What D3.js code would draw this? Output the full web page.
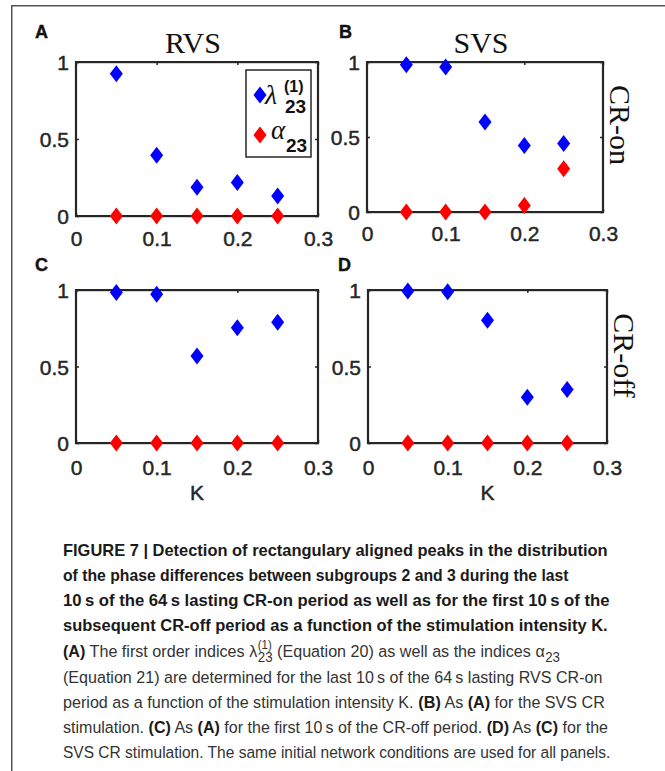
<!DOCTYPE html>
<html><head><meta charset="utf-8">
<script src="https://cdn.jsdelivr.net/npm/d3@7"></script>
<style>body{margin:0;background:#fff}svg{display:block}</style>
</head><body>
<svg id="fig" width="665" height="771"></svg>
<script>
// ---- data ----
const K = [0.05, 0.10, 0.15, 0.20, 0.25];
const lambdaRVSon  = [0.924, 0.395, 0.186, 0.218, 0.130];
const alphaRVSon   = [0, 0, 0, 0, 0];
const lambdaSVSon  = [0.982, 0.967, 0.600, 0.444, 0.456];
const alphaSVSon   = [0, 0, 0, 0.044, 0.289];
const lambdaRVSoff = [0.983, 0.972, 0.568, 0.753, 0.790];
const alphaRVSoff  = [0, 0, 0, 0, 0];
const lambdaSVSoff = [0.993, 0.989, 0.803, 0.299, 0.349];
const alphaSVSoff  = [0, 0, 0, 0, 0];
const xTicks = [0, 0.1, 0.2, 0.3];
const yTicks = [0, 0.5, 1];
const xTickLabels = ["0", "0.1", "0.2", "0.3"];
const yTickLabels = ["0", "0.5", "1"];
const panelLetters = ["A", "B", "C", "D"];
const columnTitles = ["RVS", "SVS"];
const rowTitles = ["CR-on", "CR-off"];

const svg = d3.select('#fig');
const AX = '#262626';
const tickFont = "'Liberation Sans', Arial, sans-serif";
const serif = "'Liberation Serif', 'Times New Roman', serif";

// figure border (top and left)
svg.append('rect').attr('x', 11).attr('y', 5).attr('width', 660).attr('height', 1.5).attr('fill', '#555');
svg.append('rect').attr('x', 11).attr('y', 5).attr('width', 1.5).attr('height', 770).attr('fill', '#555');

const panels = [
  {lam: lambdaRVSon,  alp: alphaRVSon,  box: [76, 318, 216, 62],  xlabY: 246, letter: [35, 38], rowOff: 0},
  {lam: lambdaSVSon,  alp: alphaSVSon,  box: [367, 603, 212, 62], xlabY: 241, letter: [339, 38], rowOff: -12},
  {lam: lambdaRVSoff, alp: alphaRVSoff, box: [76, 318, 443, 290], xlabY: 475, letter: [35, 271], klab: true},
  {lam: lambdaSVSoff, alp: alphaSVSoff, box: [368, 607, 443, 290], xlabY: 475, letter: [338, 271], klab: true, rowOff: -11}
];

function diamond(g, cx, cy, color) {
  g.append('path')
    .attr('d', `M${cx},${cy - 8.5}L${cx + 6.5},${cy}L${cx},${cy + 8.5}L${cx - 6.5},${cy}Z`)
    .attr('fill', color);
}

panels.forEach((p, i) => {
  const [x0, x1, y0, y1] = p.box;
  const x = d3.scaleLinear().domain([0, 0.3]).range([x0, x1]);
  const y = d3.scaleLinear().domain([0, 1]).range([y0, y1]);
  const g = svg.append('g');

  // box drawn as filled bars (robust against thin-line rendering)
  g.append('rect').attr('x', x0 - 1).attr('y', y1 - 1).attr('width', x1 - x0 + 2).attr('height', 2.2).attr('fill', AX);
  g.append('rect').attr('x', x0 - 1).attr('y', y0 - 1).attr('width', x1 - x0 + 2).attr('height', 2.2).attr('fill', AX);
  g.append('rect').attr('x', x0 - 1.1).attr('y', y1 - 1).attr('width', 2.2).attr('height', y0 - y1 + 2).attr('fill', AX);
  g.append('rect').attr('x', x1 - 1.1).attr('y', y1 - 1).attr('width', 2.2).attr('height', y0 - y1 + 2).attr('fill', AX);

  // axes with inner ticks
  const mk = (axis, tr) => {
    const a = g.append('g').attr('transform', tr).call(axis);
    a.select('.domain').remove();
    a.selectAll('.tick line').attr('stroke', AX).attr('stroke-width', 1.5);
    return a;
  };
  const bottom = mk(d3.axisBottom(x).tickValues(xTicks).tickSize(-3)
      .tickFormat((d, j) => xTickLabels[j]), `translate(0,${y0})`);
  bottom.selectAll('text').attr('y', p.xlabY - y0).attr('dy', null)
    .attr('font-family', tickFont).attr('font-size', 21).attr('fill', AX)
    .attr('stroke', AX).attr('stroke-width', 0.45);
  mk(d3.axisTop(x).tickValues(xTicks).tickSize(-3).tickFormat(''), `translate(0,${y1})`);
  const left = mk(d3.axisLeft(y).tickValues(yTicks).tickSize(-3)
      .tickFormat((d, j) => yTickLabels[j]), `translate(${x0},0)`);
  left.selectAll('text').attr('x', -7).attr('dy', '0.36em')
    .attr('font-family', tickFont).attr('font-size', 21).attr('fill', AX)
    .attr('stroke', AX).attr('stroke-width', 0.45);
  mk(d3.axisRight(y).tickValues(yTicks).tickSize(-3).tickFormat(''), `translate(${x1},0)`);

  // markers
  K.forEach((k, j) => diamond(g, x(k), y(p.lam[j]), '#0000ff'));
  K.forEach((k, j) => diamond(g, x(k), y(p.alp[j]), '#ff0000'));

  // panel letter
  svg.append('text').attr('x', p.letter[0]).attr('y', p.letter[1]).text(panelLetters[i])
    .attr('font-family', tickFont).attr('font-weight', 'bold').attr('font-size', 18)
    .attr('stroke', '#111').attr('stroke-width', 0.4).attr('fill', '#111');

  // column titles
  if (i < 2) {
    svg.append('text').attr('x', (x0 + x1) / 2 - 4).attr('y', 53)
      .attr('text-anchor', 'middle').attr('font-family', serif).attr('font-size', 30)
      .attr('fill', '#111').text(columnTitles[i]);
  }
  // row titles (right side)
  if (i % 2 === 1) {
    svg.append('text').attr('transform', `translate(${x1 + 7},${(y0 + y1) / 2 + p.rowOff}) rotate(90)`)
      .attr('text-anchor', 'middle').attr('font-family', serif).attr('font-size', 30)
      .attr('fill', '#111').text(rowTitles[(i - 1) / 2]);
  }
  if (p.klab) {
    svg.append('text').attr('x', (x0 + x1) / 2).attr('y', 500).attr('text-anchor', 'middle')
      .attr('font-family', tickFont).attr('font-size', 21).attr('fill', AX)
      .attr('stroke', AX).attr('stroke-width', 0.45).text('K');
  }

  // legend in panel A
  if (i === 0) {
    const lg = svg.append('g');
    lg.append('rect').attr('x', 246).attr('y', 70).attr('width', 65).attr('height', 87)
      .attr('fill', '#fff').attr('stroke', AX).attr('stroke-width', 1.5);
    diamond(lg, 260, 95, '#0000ff');
    diamond(lg, 260, 135, '#ff0000');
    lg.append('text').attr('x', 265).attr('y', 104).attr('font-family', serif)
      .attr('font-style', 'italic').attr('font-size', 28).attr('fill', '#111').text('λ');
    lg.append('text').attr('x', 284).attr('y', 92).attr('font-family', tickFont)
      .attr('font-weight', 'bold').attr('font-size', 16).attr('fill', '#111').text('(1)');
    lg.append('text').attr('x', 285).attr('y', 113).attr('font-family', tickFont)
      .attr('font-weight', 'bold').attr('font-size', 19).attr('fill', '#111').text('23');
    lg.append('text').attr('x', 271).attr('y', 139).attr('font-family', serif)
      .attr('font-style', 'italic').attr('font-size', 27).attr('fill', '#111').text('α');
    lg.append('text').attr('x', 286).attr('y', 152).attr('font-family', tickFont)
      .attr('font-weight', 'bold').attr('font-size', 19).attr('fill', '#111').text('23');
  }
});

// ---- caption ----
const captionLines = [
  [['b', 'FIGURE 7 | Detection of rectangulary aligned peaks in the distribution']],
  [['b', 'of the phase differences between subgroups 2 and 3 during the last']],
  [['b', '10\u2009s of the 64\u2009s lasting CR-on period as well as for the first 10\u2009s of the']],
  [['b', 'subsequent CR-off period as a function of the stimulation intensity K.']],
  [['b', '(A)'], ['n', ' The first order indices '], ['lam'], ['n', ' (Equation 20) as well as the indices '], ['alp']],
  [['n', '(Equation 21) are determined for the last 10\u2009s of the 64\u2009s lasting RVS CR-on']],
  [['n', 'period as a function of the stimulation intensity K. '], ['b', '(B)'], ['n', ' As '], ['b', '(A)'], ['n', ' for the SVS CR']],
  [['n', 'stimulation. '], ['b', '(C)'], ['n', ' As '], ['b', '(A)'], ['n', ' for the first 10\u2009s of the CR-off period. '], ['b', '(D)'], ['n', ' As '], ['b', '(C)'], ['n', ' for the']],
  [['n', 'SVS CR stimulation. The same initial network conditions are used for all panels.']]
];
const captionEnds = [608, 569, 610, 608, 560, 603, 605, 608, 611];
const captionBase = [556, 581, 606, 631, 657, 683, 708, 733, 758];
const capFont = "'Liberation Sans', Arial, sans-serif";

captionLines.forEach((segs, li) => {
  const g = svg.append('g');
  let cx = 0;
  const put = (txt, opts) => {
    const t = g.append('text').attr('x', cx + (opts.dx || 0)).attr('y', opts.dy || 0)
      .style('white-space', 'pre').attr('font-family', capFont)
      .attr('font-size', opts.size || 17).attr('font-weight', opts.bold ? 'bold' : 'normal')
      .attr('fill', opts.bold ? '#1a1a1a' : '#333').text(txt);
    return t.node().getComputedTextLength();
  };
  segs.forEach(s => {
    if (s[0] === 'b') cx += put(s[1], {bold: true});
    else if (s[0] === 'n') cx += put(s[1], {});
    else if (s[0] === 'lam') {
      cx += put('λ', {}) + 0.5;
      const w1 = put('(1)', {size: 12, dy: -8});
      const w2 = put('23', {size: 14, dy: 5});
      cx += Math.max(w1, w2);
    } else if (s[0] === 'alp') {
      cx += put('α', {}) + 0.5;
      cx += put('23', {size: 14, dy: 5});
    }
  });
  const sx = (captionEnds[li] - 63) / cx;
  g.attr('transform', `translate(63,${captionBase[li]}) scale(${sx},1)`);
});
</script>
</body></html>
